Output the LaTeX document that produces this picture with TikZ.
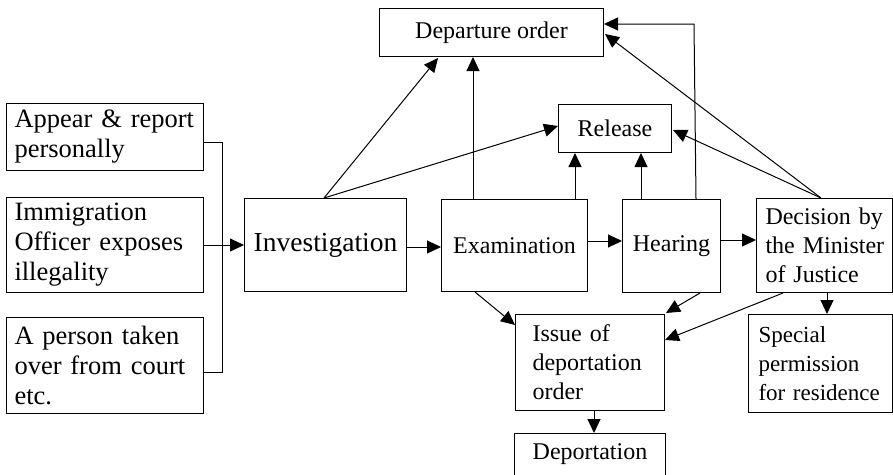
\documentclass[tikz,border=0pt]{standalone}
\usepackage{fontspec}
\setmainfont{Liberation Serif}
\usetikzlibrary{arrows.meta,calc}
\tikzset{
  box/.style={draw, line width=1pt, anchor=north west, inner ysep=0pt, align=left},
  mainfont/.style={font=\fontsize{24}{29}\selectfont},
  bigfont/.style={font=\fontsize{26.5}{30}\selectfont},
  line/.style={line width=1pt},
  arr/.style={line width=1pt, -{Triangle[length=14pt,width=13pt]}}
}
\begin{document}
\begin{tikzpicture}[x=1pt,y=-1pt]
\useasboundingbox (0,0) rectangle (893,474);
% left boxes
\node[box, bigfont, minimum width=197pt, minimum height=67pt, inner xsep=8pt, text width=181pt] (a1) at (6,103) {\mbox{Appear \& report}\\personally};
\node[box, bigfont, minimum width=197pt, minimum height=95pt, inner xsep=8pt, text width=181pt] (a2) at (6,197) {Immigration\\\mbox{Officer exposes}\\illegality};
\node[box, bigfont, minimum width=197pt, minimum height=96pt, inner xsep=8pt, text width=181pt] (a3) at (6,317) {\mbox{A person taken}\\\mbox{over from court}\\etc.};
% main row
\node[box, font=\fontsize{27.5}{32}\selectfont, minimum width=162pt, minimum height=93pt, align=center] (inv) at (244,198) {Investigation};
\node[box, mainfont, minimum width=146pt, minimum height=92pt, align=center] (exam) at (441,199) {Examination};
\node[box, mainfont, minimum width=98pt, minimum height=93pt, align=center] (hear) at (622,199) {Hearing};
\node[box, mainfont, minimum width=136pt, minimum height=94pt, inner xsep=9pt, text width=118pt] (dec) at (756,198) {\mbox{Decision by}\\\mbox{the Minister}\\\mbox{of Justice}};
% top
\node[box, mainfont, minimum width=224pt, minimum height=48pt, align=center] (dep) at (379,8) {Departure order};
\node[box, mainfont, minimum width=113pt, minimum height=48pt, align=center] (rel) at (558,104) {Release};
% bottom
\node[box, mainfont, minimum width=149pt, minimum height=96pt, inner xsep=17pt, text width=115pt] (iss) at (515,314) {Issue of\\\mbox{deportation}\\order};
\node[box, font=\fontsize{23}{29}\selectfont, minimum width=144pt, minimum height=98pt, inner xsep=10pt, text width=124pt] (spec) at (748,314) {Special\\\mbox{permission}\\\mbox{for residence}};
\node[box, mainfont, minimum width=151pt, minimum height=42pt, align=center] (deport) at (514,433) {Deportation};
% bracket
\coordinate (jtop) at (222,142);
\coordinate (jmid) at (222,245);
\coordinate (jbot) at (222,372);
\draw[line] (a1.east |- jtop) -- (jtop) -- (jbot) -- (a3.east |- jbot);
\draw[line] (a2.east |- jmid) -- (jmid);
\draw[arr] (jmid) -- (inv.west |- jmid);
% horizontal flow
\draw[arr] ($(inv.north east)+(0,49)$) coordinate (p1) -- (p1 -| exam.west);
\draw[arr] ($(exam.north east)+(0,42)$) coordinate (p2) -- (p2 -| hear.west);
\draw[arr] ($(hear.north east)+(0,41)$) coordinate (p3) -- (p3 -| dec.west);
% from investigation
\coordinate (it) at ($(inv.north west)+(80,0)$);
\draw[arr] (it) -- ($(dep.south west)+(59,1)$);
\draw[arr] (it) -- ($(rel.north west)+(0,22)$);
% from examination
\draw[arr] ($(exam.north west)+(32,0)$) coordinate (p4) -- (p4 |- dep.south);
\draw[arr] ($(exam.north west)+(134,0)$) coordinate (p5) -- (p5 |- rel.south);
% from hearing
\draw[arr] ($(hear.north west)+(19,0)$) coordinate (p6) -- (p6 |- rel.south);
\coordinate (hc) at ($(dep.north east)+(90,16)$);
\draw[arr] ($(hear.north west)+(74,0)$) -- (hc) -- ($(dep.north east)+(0,16)$);
% from decision
\coordinate (dt) at ($(dec.north west)+(65,0)$);
\draw[arr] (dt) -- ($(dep.north east)+(1,26)$);
\draw[arr] (dt) -- ($(rel.north east)+(1,26)$);
% to issue
\draw[arr] ($(exam.south west)+(34,0)$) -- ($(iss.north west)+(0,11)$);
\draw[arr] ($(hear.south west)+(78,0)$) -- ($(iss.north east)+(1,-1)$);
\draw[arr] ($(dec.south west)+(27,0)$) -- ($(iss.north east)+(0,26)$);
\draw[arr] ($(dec.south west)+(71,0)$) coordinate (p7) -- (p7 |- spec.north);
\draw[arr] ($(iss.south west)+(79,0)$) coordinate (p8) -- (p8 |- deport.north);
\end{tikzpicture}
\end{document}
